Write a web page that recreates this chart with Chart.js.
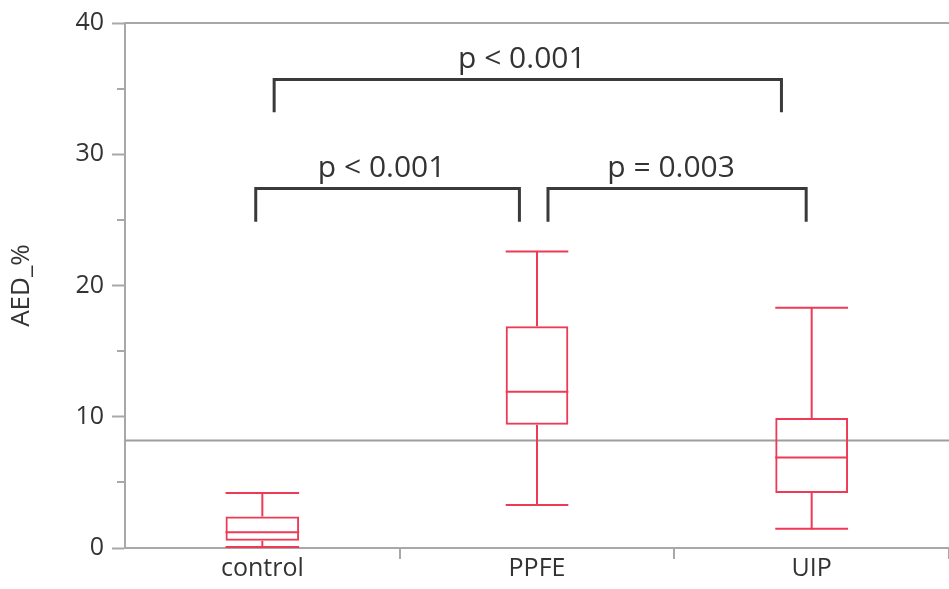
<!DOCTYPE html>
<html>
<head>
<meta charset="utf-8">
<script src="https://cdn.jsdelivr.net/npm/chart.js@4.4.1/dist/chart.umd.min.js"></script>
<style>
  html, body { margin: 0; padding: 0; background: #fff; }
  #wrap { width: 949px; height: 589px; }
</style>
</head>
<body>
<div id="wrap"><canvas id="chart" width="949" height="589"></canvas></div>
<script>
// box plot values
const categories = ["control", "PPFE", "UIP"];
const whiskerLow = [0, 3.2, 1.4];
const q1 = [0.55, 9.4, 4.2];
const median = [1.2, 11.9, 6.9];
const q3 = [2.4, 16.9, 9.9];
const whiskerHigh = [4.2, 22.6, 18.3];
const referenceLine = 8.2;

const majorTicks = [0, 10, 20, 30, 40];
const minorTicks = [5, 15, 25, 35];

// pairwise comparisons
const pPairs = [[0, 2], [0, 1], [1, 2]];
const pLabels = ["p < 0.001", "p < 0.001", "p = 0.003"];

// styling / placement (not data)
const RED = "#ee3a55";
const AXIS = "#a8a8a8";
const TEXT = "#333";
const boxWidths = [0.268, 0.228, 0.265];
const brackets = [
  { from: 0.043, to: 1.89, top: 35.7, bottom: 33.2 },
  { from: -0.024, to: 0.936, top: 27.4, bottom: 24.85 },
  { from: 1.04, to: 1.98, top: 27.4, bottom: 24.85 },
];

const line = (ctx, x1, y1, x2, y2) => {
  ctx.beginPath();
  ctx.moveTo(x1, y1);
  ctx.lineTo(x2, y2);
  ctx.stroke();
};

const boxPlot = {
  id: "boxPlot",
  beforeDatasetsDraw(chart) {
    const { ctx, chartArea: a, scales: { y } } = chart;
    ctx.save();
    // frame top
    ctx.strokeStyle = AXIS;
    ctx.lineWidth = 2;
    line(ctx, a.left, a.top, a.right, a.top);
    // minor ticks
    minorTicks.forEach((v) => {
      const yy = Math.round(y.getPixelForValue(v));
      line(ctx, a.left - 8, yy, a.left, yy);
    });
    // reference line
    ctx.strokeStyle = "#9e9e9e";
    const ry = y.getPixelForValue(referenceLine);
    line(ctx, a.left, ry, a.right, ry);
    ctx.restore();
  },
  afterDatasetsDraw(chart) {
    const { ctx, scales: { x, y } } = chart;
    ctx.save();
    ctx.strokeStyle = RED;
    ctx.lineWidth = 2;
    categories.forEach((c, i) => {
      const bar = chart.getDatasetMeta(i).data[i];
      if (!bar) return;
      const cx = bar.x, hw = bar.width / 2;
      const ym = y.getPixelForValue(median[i]);
      line(ctx, cx - hw, ym, cx + hw, ym);
      const yq1 = y.getPixelForValue(q1[i]);
      const yq3 = y.getPixelForValue(q3[i]);
      const ylo = y.getPixelForValue(whiskerLow[i]);
      const yhi = y.getPixelForValue(whiskerHigh[i]);
      line(ctx, cx, yq3, cx, yhi);
      line(ctx, cx, yq1, cx, ylo);
      line(ctx, cx - hw, yhi, cx + hw, yhi);
      line(ctx, cx - hw, ylo - 1, cx + hw, ylo - 1);
    });

    // significance brackets
    const x0 = x.getPixelForValue(0);
    const step = x.getPixelForValue(1) - x0;
    const px = (v) => x0 + v * step;
    ctx.strokeStyle = "#3a3a3a";
    ctx.lineWidth = 3;
    ctx.lineJoin = "miter";
    ctx.fillStyle = TEXT;
    ctx.font = "30px 'Open Sans'";
    ctx.textAlign = "center";
    ctx.textBaseline = "alphabetic";
    brackets.forEach((b, k) => {
      const l = px(b.from), r = px(b.to);
      const t = y.getPixelForValue(b.top), bt = y.getPixelForValue(b.bottom);
      ctx.beginPath();
      ctx.moveTo(l, bt);
      ctx.lineTo(l, t);
      ctx.lineTo(r, t);
      ctx.lineTo(r, bt);
      ctx.stroke();
      ctx.fillText(pLabels[k], (l + r) / 2 - 6, t - 11);
    });
    ctx.restore();
  },
};

const datasets = categories.map((c, i) => ({
  label: c,
  data: categories.map((_, j) => (j === i ? [q1[i], q3[i]] : null)),
  grouped: false,
  categoryPercentage: 1,
  barPercentage: boxWidths[i],
  backgroundColor: "rgba(0,0,0,0)",
  borderColor: RED,
  borderWidth: 2,
  borderSkipped: false,
}));

new Chart(document.getElementById("chart"), {
  type: "bar",
  data: { labels: categories, datasets: datasets },
  options: {
    responsive: false,
    animation: false,
    layout: { padding: { top: 20, right: 0, bottom: 0, left: 0 } },
    plugins: {
      legend: { display: false },
      tooltip: { enabled: false },
    },
    scales: {
      x: {
        offset: true,
        grid: {
          offset: true,
          drawOnChartArea: false,
          tickLength: 11,
          lineWidth: 2,
          color: (c) => (c.index === 0 ? "rgba(0,0,0,0)" : AXIS),
        },
        border: { color: AXIS, width: 2 },
        ticks: {
          color: TEXT,
          font: { family: "Open Sans", size: 25 },
          padding: -5,
        },
        afterFit: (s) => { s.height = 41; },
      },
      y: {
        min: 0,
        max: 40,
        afterBuildTicks: (s) => {
          s.ticks = [...majorTicks, ...minorTicks].sort((a, b) => a - b).map((v) => ({ value: v }));
        },
        ticks: {
          color: TEXT,
          font: { family: "Open Sans", size: 25 },
          padding: 8,
          callback: (v) => (majorTicks.includes(v) ? v : ""),
        },
        grid: {
          drawOnChartArea: false,
          tickLength: 13,
          tickWidth: 2,
          tickColor: (c) => (c.tick && majorTicks.includes(c.tick.value) ? AXIS : "rgba(0,0,0,0)"),
        },
        border: { color: AXIS, width: 2 },
        title: {
          display: true,
          text: "AED_%",
          color: TEXT,
          font: { family: "Open Sans", size: 26 },
          padding: { top: 6, bottom: 0 },
        },
        afterFit: (s) => { s.width = 125; },
      },
    },
  },
  plugins: [boxPlot],
});
</script>
</body>
</html>
